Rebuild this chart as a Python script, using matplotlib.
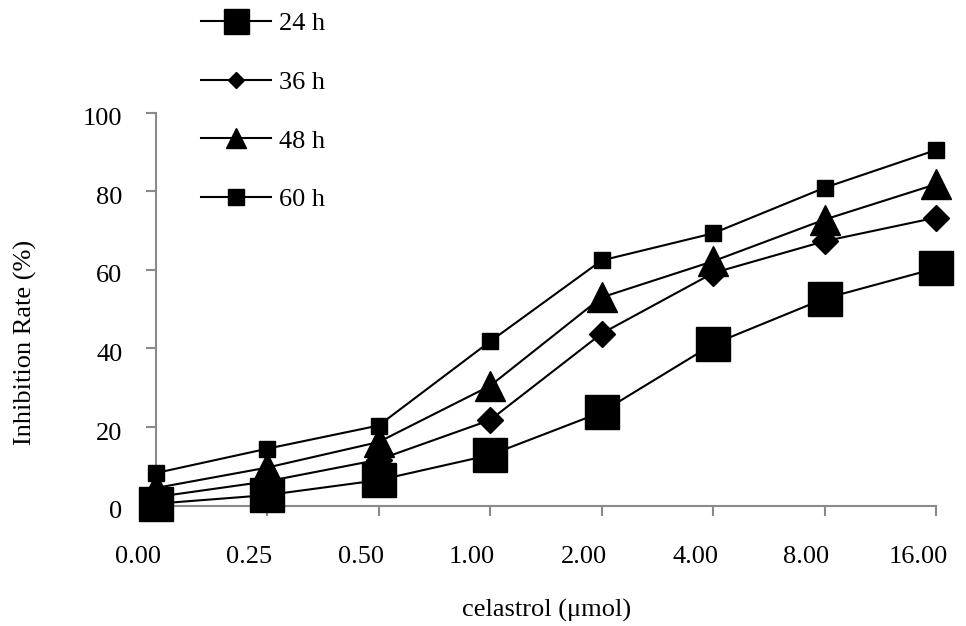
import matplotlib
matplotlib.use("Agg")
import matplotlib.pyplot as plt
from matplotlib.lines import Line2D
from matplotlib.transforms import ScaledTranslation

plt.rcParams['font.family'] = ['Liberation Serif', 'DejaVu Serif']

categories = ["0.00", "0.25", "0.50", "1.00", "2.00", "4.00", "8.00", "16.00"]
h24 = [0.5, 2.7, 6.5, 12.9, 23.8, 41.1, 52.7, 60.4]
h36 = [2.2, 6.2, 11.7, 21.8, 43.8, 59.2, 67.3, 73.3]
h48 = [4.5, 9.7, 16.2, 30.5, 53.0, 62.2, 72.8, 81.8]
h60 = [8.3, 14.5, 20.4, 41.8, 62.4, 69.3, 80.9, 90.5]
labels = ["24 h", "36 h", "48 h", "60 h"]
yticks = [0, 20, 40, 60, 80, 100]

W, H = 966, 626
fig = plt.figure(figsize=(W / 100, H / 100), dpi=100)
ax = fig.add_axes([155.7 / W, 1 - 505.7 / H, (936 - 155.7) / W, (505.7 - 112.7) / H])

x = list(range(len(categories)))
lw = 1.5
ax.plot(x, h24, color='black', lw=lw, marker='s', ms=24.5, clip_on=False, zorder=3)
ax.plot(x, h36, color='black', lw=lw, marker='D', ms=13.4, clip_on=False, zorder=4)
ax.plot(x, h48, color='black', lw=lw, marker='^', ms=22, clip_on=False, zorder=4)
ax.plot(x, h60, color='black', lw=lw, marker='s', ms=12, clip_on=False, zorder=5)

ax.set_xlim(0, len(categories) - 1)
ax.set_ylim(0, 100)
ax.set_xticks(x)
ax.set_xticklabels(categories)
ax.set_yticks(yticks)
ax.set_yticklabels([str(v) for v in yticks])

grey = '#8a8a8a'
for s in ['top', 'right']:
    ax.spines[s].set_visible(False)
for s in ['left', 'bottom']:
    ax.spines[s].set_color(grey)
    ax.spines[s].set_linewidth(1.5)
ax.tick_params(axis='both', colors=grey, width=1.5, length=7, labelsize=19, labelcolor='black')
ax.tick_params(axis='x', pad=22)
ax.tick_params(axis='y', pad=17)
offx = ScaledTranslation(-18 / 100, 0, fig.dpi_scale_trans)
for lab in ax.get_xticklabels():
    lab.set_transform(lab.get_transform() + offx)
offy = ScaledTranslation(0, -4 / 100, fig.dpi_scale_trans)
for lab in ax.get_yticklabels():
    lab.set_transform(lab.get_transform() + offy)

ax.set_xlabel("celastrol (\u03bcmol)", fontsize=19, va='center')
ax.set_ylabel("Inhibition Rate (%)", fontsize=19, va='center')
ax.xaxis.set_label_coords(0.5015, -0.267)
ax.yaxis.set_label_coords(-0.1675, 0.415)

handles = [
    Line2D([], [], color='black', lw=lw, marker='s', ms=18),
    Line2D([], [], color='black', lw=lw, marker='D', ms=8),
    Line2D([], [], color='black', lw=lw, marker='^', ms=14),
    Line2D([], [], color='black', lw=lw, marker='s', ms=12),
]
fig.legend(handles, labels, loc='upper left',
           bbox_to_anchor=(201 / W, 1 - 12 / H), bbox_transform=fig.transFigure,
           frameon=False, fontsize=19, handlelength=2.65, handletextpad=0.3,
           labelspacing=1.33, borderpad=0, borderaxespad=0)

fig.savefig("out.png", dpi=100)
